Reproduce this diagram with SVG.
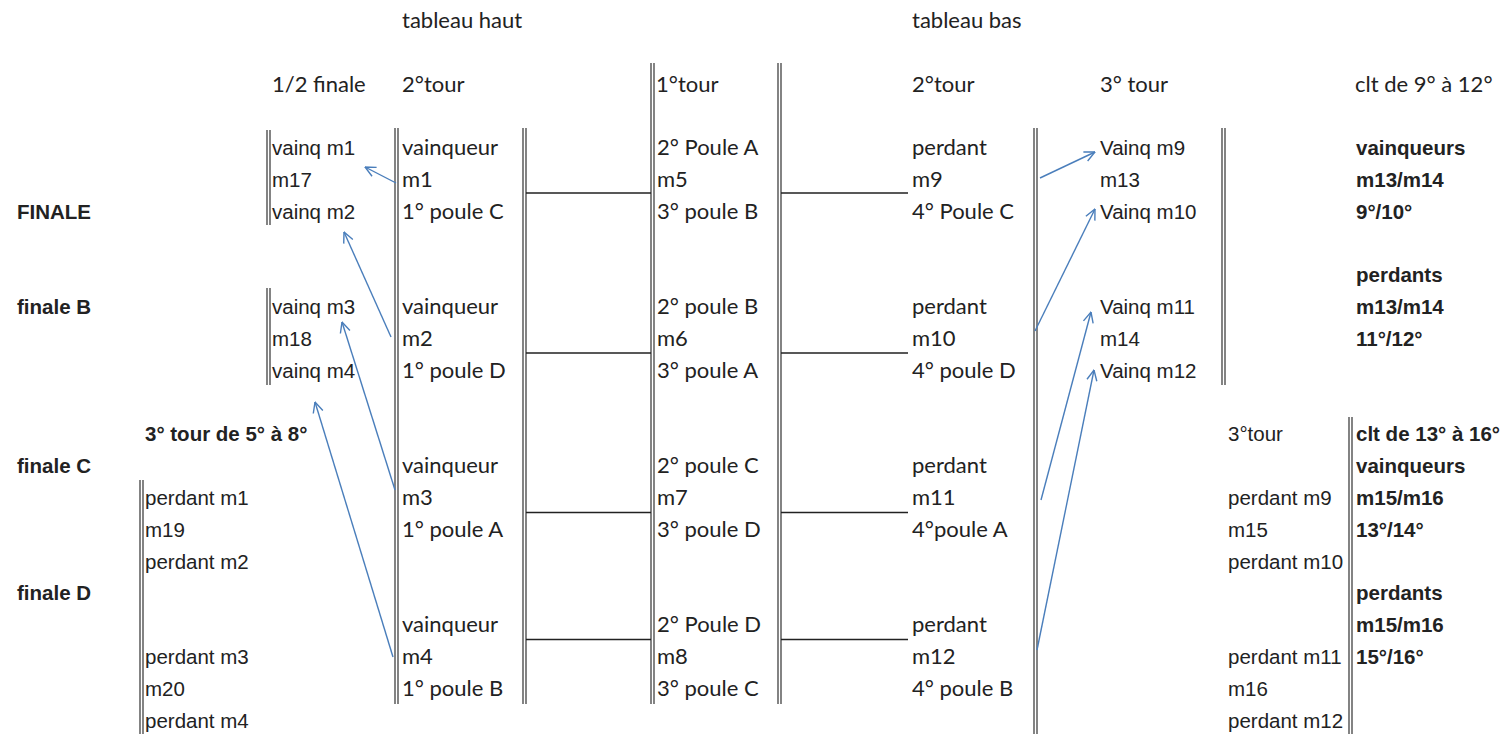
<svg xmlns="http://www.w3.org/2000/svg" width="1508" height="734" viewBox="0 0 1508 734">
<defs>
<marker id="ah" viewBox="0 0 12 12" refX="11.5" refY="6" markerWidth="12" markerHeight="12" markerUnits="userSpaceOnUse" orient="auto">
<path d="M1,1 L11.5,6 L1,11" fill="none" stroke="#4a7ebb" stroke-width="1.4"/>
</marker>
</defs>
<style>
text{fill:#222}
.c{font-family:Lato,"Open Sans",sans-serif;font-size:22px}
.a{font-family:"Liberation Sans",Arial,sans-serif;font-size:20.5px}
.b{font-family:"Liberation Sans",Arial,sans-serif;font-size:20.5px;font-weight:bold}
.v{stroke:#333;stroke-width:1.2;fill:none}
.h{stroke:#222;stroke-width:1.4;fill:none}
.ar{stroke:#4a7ebb;stroke-width:1.4;fill:none;marker-end:url(#ah)}
</style>
<rect width="1508" height="734" fill="#fff"/>

<g id="lines">
<path class="v" d="M267,130V225M270,130V225"/>
<path class="v" d="M267,288V385M270,288V385"/>
<path class="v" d="M395,128V704M398,128V704"/>
<path class="v" d="M523,128V704M526,128V704"/>
<path class="v" d="M651,63V704M654,63V704"/>
<path class="v" d="M778,63V704M781,63V704"/>
<path class="v" d="M1034,128V734M1037,128V734"/>
<path class="v" d="M1222,128V385M1225,128V385"/>
<path class="v" d="M1349,417V734M1352,417V734"/>
<path class="v" d="M140,480V734M143,480V734"/>
<path class="h" d="M526,193H651M526,353H651M526,512.5H651M526,639.5H651"/>
<path class="h" d="M781,193H908M781,353H908M781,512.5H908M781,639.5H908"/>
</g>

<g id="connectors">
<line class="ar" x1="396" y1="183" x2="365" y2="167"/>
<line class="ar" x1="391" y1="337" x2="344" y2="232"/>
<line class="ar" x1="395" y1="490" x2="342" y2="322"/>
<line class="ar" x1="393" y1="657" x2="315" y2="402"/>
<line class="ar" x1="1040" y1="178" x2="1095" y2="152"/>
<line class="ar" x1="1035" y1="331" x2="1095" y2="209"/>
<line class="ar" x1="1041" y1="500" x2="1091" y2="312"/>
<line class="ar" x1="1037" y1="650" x2="1094" y2="370"/>
</g>

<g id="headers">
<text class="c" x="402" y="28">tableau haut</text>
<text class="c" x="912" y="28">tableau bas</text>
<text class="c" x="272" y="92">1/2 finale</text>
<text class="c" x="402" y="92">2°tour</text>
<text class="c" x="656" y="92">1°tour</text>
<text class="c" x="912" y="92">2°tour</text>
<text class="c" x="1100" y="92">3° tour</text>
<text class="c" x="1355" y="92">clt de 9° à 12°</text>
</g>

<g id="left-labels">
<text class="b" x="17" y="219">FINALE</text>
<text class="b" x="17" y="314">finale B</text>
<text class="b" x="17" y="473">finale C</text>
<text class="b" x="17" y="600">finale D</text>
</g>

<g id="node-m17">
<text class="a" x="272" y="155">vainq m1</text>
<text class="a" x="272" y="187">m17</text>
<text class="a" x="272" y="219">vainq m2</text>
</g>
<g id="node-m18">
<text class="a" x="272" y="314">vainq m3</text>
<text class="a" x="272" y="346">m18</text>
<text class="a" x="272" y="378">vainq m4</text>
</g>

<g id="node-m1">
<text class="c" x="402" y="155">vainqueur</text>
<text class="c" x="402" y="187">m1</text>
<text class="c" x="402" y="219">1° poule C</text>
</g>
<g id="node-m2">
<text class="c" x="402" y="314">vainqueur</text>
<text class="c" x="402" y="346">m2</text>
<text class="c" x="402" y="378">1° poule D</text>
</g>
<g id="node-m3">
<text class="c" x="402" y="473">vainqueur</text>
<text class="c" x="402" y="505">m3</text>
<text class="c" x="402" y="537">1° poule A</text>
</g>
<g id="node-m4">
<text class="c" x="402" y="632">vainqueur</text>
<text class="c" x="402" y="664">m4</text>
<text class="c" x="402" y="696">1° poule B</text>
</g>

<g id="node-m5">
<text class="c" x="657" y="155">2° Poule A</text>
<text class="c" x="657" y="187">m5</text>
<text class="c" x="657" y="219">3° poule B</text>
</g>
<g id="node-m6">
<text class="c" x="657" y="314">2° poule B</text>
<text class="c" x="657" y="346">m6</text>
<text class="c" x="657" y="378">3° poule A</text>
</g>
<g id="node-m7">
<text class="c" x="657" y="473">2° poule C</text>
<text class="c" x="657" y="505">m7</text>
<text class="c" x="657" y="537">3° poule D</text>
</g>
<g id="node-m8">
<text class="c" x="657" y="632">2° Poule D</text>
<text class="c" x="657" y="664">m8</text>
<text class="c" x="657" y="696">3° poule C</text>
</g>

<g id="node-m9">
<text class="c" x="912" y="155">perdant</text>
<text class="c" x="912" y="187">m9</text>
<text class="c" x="912" y="219">4° Poule C</text>
</g>
<g id="node-m10">
<text class="c" x="912" y="314">perdant</text>
<text class="c" x="912" y="346">m10</text>
<text class="c" x="912" y="378">4° poule D</text>
</g>
<g id="node-m11">
<text class="c" x="912" y="473">perdant</text>
<text class="c" x="912" y="505">m11</text>
<text class="c" x="912" y="537">4°poule A</text>
</g>
<g id="node-m12">
<text class="c" x="912" y="632">perdant</text>
<text class="c" x="912" y="664">m12</text>
<text class="c" x="912" y="696">4° poule B</text>
</g>

<g id="node-m13">
<text class="a" x="1100" y="155">Vainq m9</text>
<text class="a" x="1100" y="187">m13</text>
<text class="a" x="1100" y="219">Vainq m10</text>
</g>
<g id="node-m14">
<text class="a" x="1100" y="314">Vainq m11</text>
<text class="a" x="1100" y="346">m14</text>
<text class="a" x="1100" y="378">Vainq m12</text>
</g>

<g id="node-clt9-12">
<text class="b" x="1356" y="155">vainqueurs</text>
<text class="b" x="1356" y="187">m13/m14</text>
<text class="b" x="1356" y="219">9°/10°</text>
<text class="b" x="1356" y="282">perdants</text>
<text class="b" x="1356" y="314">m13/m14</text>
<text class="b" x="1356" y="346">11°/12°</text>
</g>

<g id="node-m19-m20">
<text class="b" x="145" y="441">3° tour de 5° à 8°</text>
<text class="a" x="145" y="505">perdant m1</text>
<text class="a" x="145" y="537">m19</text>
<text class="a" x="145" y="569">perdant m2</text>
<text class="a" x="145" y="664">perdant m3</text>
<text class="a" x="145" y="696">m20</text>
<text class="a" x="145" y="728">perdant m4</text>
</g>

<g id="node-m15-m16">
<text class="a" x="1228" y="441">3°tour</text>
<text class="a" x="1228" y="505">perdant m9</text>
<text class="a" x="1228" y="537">m15</text>
<text class="a" x="1228" y="569">perdant m10</text>
<text class="a" x="1228" y="664">perdant m11</text>
<text class="a" x="1228" y="696">m16</text>
<text class="a" x="1228" y="728">perdant m12</text>
</g>

<g id="node-clt13-16">
<text class="b" x="1356" y="441">clt de 13° à 16°</text>
<text class="b" x="1356" y="473">vainqueurs</text>
<text class="b" x="1356" y="505">m15/m16</text>
<text class="b" x="1356" y="537">13°/14°</text>
<text class="b" x="1356" y="600">perdants</text>
<text class="b" x="1356" y="632">m15/m16</text>
<text class="b" x="1356" y="664">15°/16°</text>
</g>
</svg>
